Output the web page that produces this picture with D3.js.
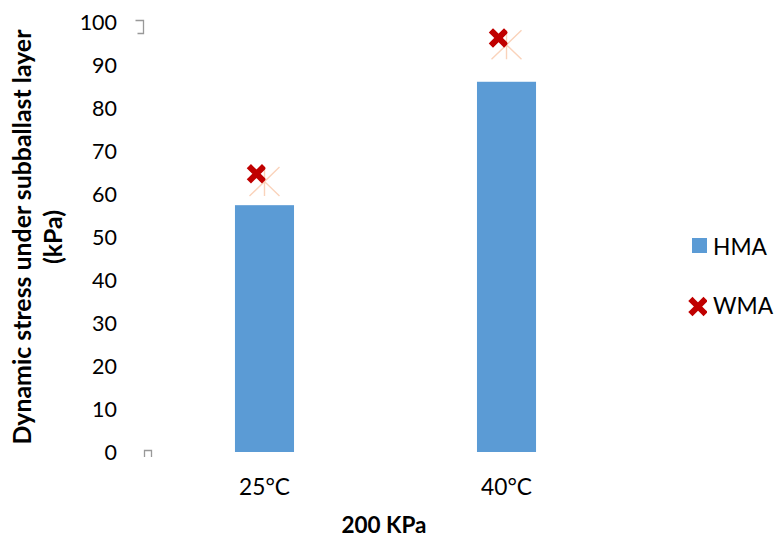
<!DOCTYPE html>
<html><head><meta charset="utf-8">
<script src="https://cdn.jsdelivr.net/npm/d3@7"></script>
<style>
html,body{margin:0;padding:0;background:#fff;}
svg{display:block;}
text{font-family:Lato,"Open Sans",sans-serif;fill:#000;}
</style></head>
<body>
<svg id="chart" width="776" height="537"></svg>
<script>
// ---- data ----
const categories = ["25°C", "40°C"];
const hmaValues = [57.4, 86.1];
const wmaValues = [64.7, 96.3];
const wmaGuideValues = [62.9, 94.7];
const yTicks = [0, 10, 20, 30, 40, 50, 60, 70, 80, 90, 100];
const seriesNames = ["HMA", "WMA"];
const yTitleLines = ["Dynamic stress under subballast layer", "(kPa)"];
const xTitle = "200 KPa";

const svg = d3.select("#chart");
const W = 776, H = 537;

const y = d3.scaleLinear().domain([0, 100]).range([452, 22]);
const x = d3.scaleBand().domain(categories).range([143, 628]).paddingInner(0.756).paddingOuter(0.38);

function fitSize(str, target, weight) {
  const t = svg.append("text").attr("font-size", 20).attr("font-weight", weight || "normal").text(str);
  const w = t.node().getComputedTextLength();
  t.remove();
  return 20 * target / w;
}

const tickSize = fitSize("100", 37.4);
const catSize = fitSize("25°C", 51);
const xTitleSize = fitSize(xTitle, 85, "bold");
const yTitleSize = fitSize(yTitleLines[0], 415, "bold");
const legSize = fitSize("HMA", 54);

// bars
svg.append("g").selectAll("rect").data(hmaValues).join("rect")
  .attr("x", (d, i) => x(categories[i]))
  .attr("width", x.bandwidth())
  .attr("y", d => y(d))
  .attr("height", d => y(0) - y(d))
  .attr("fill", "#5b9bd5");

// y tick labels (no axis line)
const yAxis = d3.axisLeft(y).tickValues(yTicks).tickSize(0).tickPadding(0).tickFormat(d3.format("d"));
const gy = svg.append("g").attr("transform", "translate(117,0)").call(yAxis);
gy.select(".domain").remove();
gy.selectAll("text").attr("font-size", tickSize).attr("font-family", "Lato, 'Open Sans', sans-serif").attr("fill", "#000").attr("dy", "0.35em");

// x category labels
const xAxis = d3.axisBottom(x).tickSize(0).tickPadding(0);
const gx = svg.append("g").attr("transform", "translate(0,495)").call(xAxis);
gx.select(".domain").remove();
gx.selectAll("text").attr("font-size", catSize).attr("font-family", "Lato, 'Open Sans', sans-serif").attr("fill", "#000").attr("dy", 0);

// faint guide asterisks
const guides = svg.append("g").attr("stroke", "#fad3bb").attr("stroke-width", 1.4).attr("fill", "none");
wmaGuideValues.forEach((v, i) => {
  const cx = x(categories[i]) + x.bandwidth() / 2, cy = y(v);
  guides.append("path").attr("d", `M${cx-15},${cy-14.5}L${cx+15},${cy+14.5}M${cx-15},${cy+14.5}L${cx+15},${cy-14.5}M${cx},${cy-14.5}L${cx},${cy+14.5}`);
});

// WMA X markers (clipped at band centre)
const defs = svg.append("defs");
function xMarker(g, cx, cy) {
  g.append("path").attr("d", `M${cx-5.5},${cy-5.5}L${cx+5.5},${cy+5.5}M${cx-5.5},${cy+5.5}L${cx+5.5},${cy-5.5}`)
    .attr("stroke", "#c00000").attr("stroke-width", 6).attr("stroke-linecap", "square").attr("fill", "none");
}
wmaValues.forEach((v, i) => {
  const bc = x(categories[i]) + x.bandwidth() / 2;
  const id = "clip" + i;
  defs.append("clipPath").attr("id", id).append("rect").attr("x", bc - 40).attr("y", 0).attr("width", 41).attr("height", H);
  const g = svg.append("g").attr("clip-path", `url(#${id})`);
  xMarker(g, bc - 8, y(v));
});

// stray artifacts
svg.append("path").attr("d", "M135.5,20.5H143.5V33.5H137.5").attr("stroke", "#999").attr("stroke-width", 1.3).attr("fill", "none");
svg.append("path").attr("d", "M144.5,457V450.5H151.5V457").attr("stroke", "#999").attr("stroke-width", 1.3).attr("fill", "none");

// y title
const yt = svg.append("text").attr("transform", "translate(0,237) rotate(-90)")
  .attr("text-anchor", "middle").attr("font-weight", "bold").attr("font-size", yTitleSize);
yt.append("tspan").attr("x", 0).attr("y", 31).text(yTitleLines[0]);
yt.append("tspan").attr("x", 0).attr("y", 62).text(yTitleLines[1]);

// x title
svg.append("text").attr("x", 384).attr("y", 533).attr("text-anchor", "middle")
  .attr("font-weight", "bold").attr("font-size", xTitleSize).text(xTitle);

// legend
const leg = svg.append("g");
leg.append("rect").attr("x", 692).attr("y", 238).attr("width", 15).attr("height", 15).attr("fill", "#5b9bd5");
leg.append("text").attr("x", 713).attr("y", 255).attr("font-size", legSize).text(seriesNames[0]);
defs.append("clipPath").attr("id", "clipLeg").append("rect").attr("x", 680).attr("y", 280).attr("width", 27).attr("height", 50);
const lgc = leg.append("g").attr("clip-path", "url(#clipLeg)");
xMarker(lgc, 698, 306.5);
leg.append("text").attr("x", 713).attr("y", 314).attr("font-size", legSize).text(seriesNames[1]);
</script>
</body></html>
